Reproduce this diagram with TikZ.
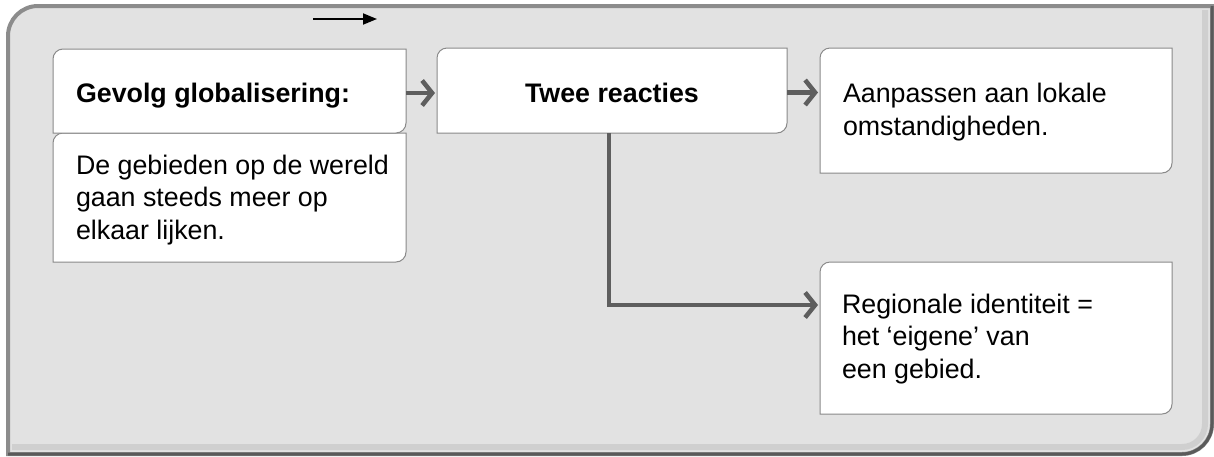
\documentclass[tikz,border=0pt]{standalone}
\usepackage{fontspec}
\setmainfont{Liberation Sans}
\usetikzlibrary{arrows.meta,calc}
\definecolor{framefill}{HTML}{E2E2E2}
\definecolor{frameedge}{HTML}{8C8C8C}
\definecolor{framedark}{HTML}{5A5A5A}
\definecolor{framemid}{HTML}{C8C8C8}
\definecolor{boxedge}{HTML}{8A8A8A}
\definecolor{arrowgray}{HTML}{5E5E5E}
\tikzset{
  boxarea/.style={rectangle, inner sep=0pt, outer sep=0pt, anchor=north west},
  txt/.style={inner sep=0pt, outer sep=0pt, font=\fontsize{26.8}{32.3}\selectfont, text=black},
  conn/.style={draw=arrowgray, line width=4.5pt, -{Straight Barb[length=10pt,width=25pt]}, shorten >=2pt},
  toparrow/.style={draw=black, line width=1.8pt, -{Triangle[length=14pt,width=11pt]}},
  boxline/.style={fill=white, draw=boxedge, line width=1pt},
}
\newcommand{\boxoutline}[1]{%
  \foreach \s/\o in {2/0.07,4/0.05,6/0.03}{%
    \fill[black, opacity=\o, shift={(\s,\s)}] (#1.south west) -- ($(#1.north west)+(0,10)$) arc[start angle=180,end angle=270,radius=10] -- (#1.north east) -- ($(#1.south east)+(0,-10)$) arc[start angle=0,end angle=90,radius=10] -- cycle;}
  \filldraw[boxline] (#1.south west) -- ($(#1.north west)+(0,10)$) arc[start angle=180,end angle=270,radius=10] -- (#1.north east) -- ($(#1.south east)+(0,-10)$) arc[start angle=0,end angle=90,radius=10] -- cycle;}
\begin{document}
\begin{tikzpicture}[x=1pt,y=-1pt]
\useasboundingbox (0,0) rectangle (1214,456);
\fill[white] (0,0) rectangle (1214,456);
% frame
\filldraw[fill=framefill, draw=frameedge, line width=4pt]
  (8,454) -- (8,36) arc[start angle=180,end angle=270,radius=30] -- (1212,6) -- (1212,424) arc[start angle=0,end angle=90,radius=30] -- cycle;
\draw[framemid, line width=6pt, opacity=0.7]
  (1205,10) -- (1205,424) arc[start angle=0,end angle=90,radius=23] -- (12,447);
\draw[framedark, line width=3pt]
  (1212,6) -- (1212,424) arc[start angle=0,end angle=90,radius=30] -- (8,454);
% top arrow
\coordinate (ta) at (313,19);
\coordinate (tb) at (377,19);
\draw[toparrow] (ta) -- (tb);
% boxes
\node[boxarea, minimum width=353pt, minimum height=129pt] (b1b) at (53,133) {};
\node[boxarea, minimum width=353pt, minimum height=84pt] (b1) at (53,49) {};
\node[boxarea, minimum width=350pt, minimum height=85pt] (b2) at (437,48) {};
\node[boxarea, minimum width=352pt, minimum height=125pt] (b3) at (820,48) {};
\node[boxarea, minimum width=352pt, minimum height=152pt] (b4) at (820,262) {};
\boxoutline{b1b}
\boxoutline{b1}
\boxoutline{b2}
\boxoutline{b3}
\boxoutline{b4}
% texts (multi-line nodes: base = last line)
\node[txt, anchor=base west] (t1) at (76,102) {\bfseries Gevolg globalisering:};
\node[txt, anchor=base west, align=left] (t1b) at (76,239) {De gebieden op de wereld\\gaan steeds meer op\\elkaar lijken.};
\node[txt, anchor=base] (t2) at (612,102) {\bfseries Twee reacties};
\node[txt, anchor=base west, align=left] (t3) at (843,135) {Aanpassen aan lokale\\omstandigheden.};
\node[txt, anchor=base west, align=left] (t4) at (842,378) {Regionale identiteit =\\het ‘eigene’ van\\een gebied.};
% connectors
\draw[conn] ([yshift=-2pt]b1.east) -- ([yshift=-2pt]b1.east -| b2.west);
\draw[conn] ([yshift=-2pt]b2.east) -- ([yshift=-2pt]b2.east -| b3.west);
\draw[conn] ([xshift=-3pt]b2.south) |- ([yshift=33pt]b4.west);
\end{tikzpicture}
\end{document}
